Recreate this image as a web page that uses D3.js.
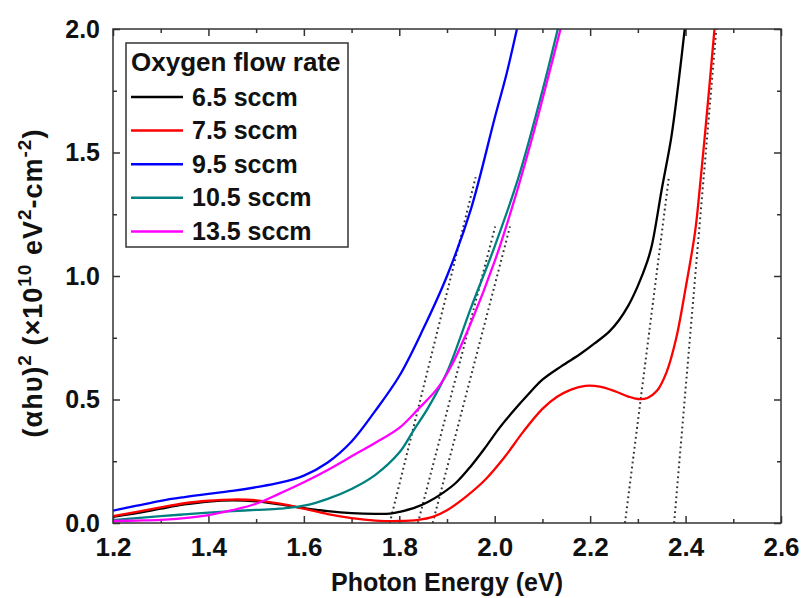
<!DOCTYPE html>
<html>
<head>
<meta charset="utf-8">
<script src="https://cdn.jsdelivr.net/npm/d3@7"></script>
<style>
  html, body { margin: 0; padding: 0; background: #fff; }
  svg { display: block; font-family: "Liberation Sans", Arial, sans-serif; }
</style>
</head>
<body>
<svg id="chart" width="803" height="598"></svg>
<script>
// ---------- data ----------
const seriesNames = ["6.5 sccm", "7.5 sccm", "9.5 sccm", "10.5 sccm", "13.5 sccm"];
const seriesColors = ["#000000", "#ff0000", "#0000ff", "#008080", "#ff00ff"];

// [photon energy (eV), (αhυ)² (×10¹⁰ eV²·cm⁻²)]
const flow6_5 = [
  [1.20,0.025],[1.25,0.040],[1.30,0.058],[1.35,0.075],[1.40,0.087],[1.45,0.092],[1.50,0.088],
  [1.55,0.075],[1.60,0.060],[1.65,0.048],[1.70,0.040],[1.75,0.037],[1.78,0.038],[1.80,0.045],
  [1.83,0.060],[1.86,0.085],[1.89,0.120],[1.92,0.165],[1.95,0.230],[1.98,0.305],[2.01,0.385],
  [2.04,0.455],[2.07,0.520],[2.10,0.580],[2.14,0.635],[2.18,0.685],[2.21,0.728],[2.24,0.775],
  [2.26,0.820],[2.28,0.880],[2.30,0.960],[2.32,1.060],[2.33,1.130],[2.35,1.350],[2.37,1.560],
  [2.385,1.780],[2.40,2.030]
];
const flow7_5 = [
  [1.20,0.028],[1.25,0.045],[1.30,0.063],[1.35,0.080],[1.40,0.090],[1.45,0.095],[1.50,0.092],
  [1.55,0.078],[1.60,0.058],[1.65,0.036],[1.70,0.020],[1.75,0.010],[1.80,0.008],[1.84,0.013],
  [1.87,0.025],[1.90,0.052],[1.94,0.107],[1.98,0.175],[2.02,0.265],[2.06,0.370],[2.10,0.462],
  [2.13,0.510],[2.16,0.540],[2.19,0.555],[2.22,0.552],[2.25,0.535],[2.28,0.512],[2.30,0.502],
  [2.32,0.506],[2.34,0.535],[2.36,0.610],[2.38,0.745],[2.40,0.950],[2.42,1.180],[2.43,1.360],
  [2.44,1.560],[2.45,1.770],[2.462,2.030]
];
const flow9_5 = [
  [1.20,0.050],[1.25,0.070],[1.30,0.090],[1.35,0.105],[1.40,0.118],[1.45,0.130],[1.50,0.145],
  [1.55,0.163],[1.60,0.192],[1.65,0.245],[1.70,0.330],[1.75,0.455],[1.80,0.595],[1.85,0.785],
  [1.90,1.000],[1.95,1.270],[2.00,1.640],[2.025,1.820],[2.05,2.030]
];
const flow10_5 = [
  [1.20,0.012],[1.25,0.020],[1.30,0.028],[1.35,0.035],[1.40,0.042],[1.45,0.048],[1.50,0.053],
  [1.55,0.058],[1.60,0.070],[1.65,0.098],[1.70,0.138],[1.75,0.195],[1.80,0.285],[1.83,0.375],
  [1.86,0.465],[1.90,0.610],[1.95,0.870],[2.00,1.120],[2.05,1.400],[2.10,1.750],[2.136,2.030]
];
const flow13_5 = [
  [1.20,0.008],[1.25,0.010],[1.30,0.013],[1.35,0.020],[1.40,0.032],[1.45,0.052],[1.50,0.078],
  [1.55,0.120],[1.60,0.165],[1.65,0.215],[1.70,0.270],[1.75,0.325],[1.80,0.385],[1.84,0.462],
  [1.88,0.545],[1.91,0.640],[1.95,0.810],[2.00,1.060],[2.04,1.300],[2.08,1.570],[2.11,1.790],
  [2.142,2.030]
];
const seriesData = [flow6_5, flow7_5, flow9_5, flow10_5, flow13_5];

// linear-fit (tangent) extrapolation lines: [[E0, y0], [E1, y1]]
const tangentLines = [
  [[1.780, 0], [1.960, 1.40]],
  [[1.839, 0], [2.001, 1.20]],
  [[1.870, 0], [2.032, 1.20]],
  [[2.273, 0], [2.365, 1.40]],
  [[2.376, 0], [2.4645, 2.00]]
];

const xMajorTicks = [1.2, 1.4, 1.6, 1.8, 2.0, 2.2, 2.4, 2.6];
const xMinorTicks = [1.3, 1.5, 1.7, 1.9, 2.1, 2.3, 2.5];
const yMajorTicks = [0.0, 0.5, 1.0, 1.5, 2.0];
const yMinorTicks = [0.25, 0.75, 1.25, 1.75];

// ---------- layout ----------
const svg = d3.select("#chart");
const m = { left: 113, top: 29, right: 781, bottom: 523 };
const W = m.right - m.left, H = m.bottom - m.top;
const axisColor = "#333";

const x = d3.scaleLinear().domain([1.2, 2.6]).range([0, W]);
const y = d3.scaleLinear().domain([0, 2.0]).range([H, 0]);

const g = svg.append("g").attr("transform", `translate(${m.left},${m.top})`);

g.append("defs").append("clipPath").attr("id", "plotclip")
  .append("rect").attr("x", 0).attr("y", 0).attr("width", W).attr("height", H);

// ---------- axes ----------
function styleAxis(sel) {
  sel.select(".domain").remove();
  sel.selectAll("line").attr("stroke", axisColor).attr("stroke-width", 1.5);
  sel.selectAll("text").attr("fill", "#111").attr("font-weight", "bold");
}
const fmt = d3.format(".1f");

// bottom
g.append("g").attr("transform", `translate(0,${H})`)
  .call(d3.axisBottom(x).tickValues(xMajorTicks).tickFormat(fmt).tickSizeInner(-7).tickSizeOuter(0).tickPadding(15))
  .call(styleAxis).selectAll("text").attr("font-size", 26);
g.append("g").attr("transform", `translate(0,${H})`)
  .call(d3.axisBottom(x).tickValues(xMinorTicks).tickFormat("").tickSizeInner(-4).tickSizeOuter(0))
  .call(styleAxis);
// top
g.append("g")
  .call(d3.axisTop(x).tickValues(xMajorTicks).tickFormat("").tickSizeInner(-7).tickSizeOuter(0))
  .call(styleAxis);
g.append("g")
  .call(d3.axisTop(x).tickValues(xMinorTicks).tickFormat("").tickSizeInner(-4).tickSizeOuter(0))
  .call(styleAxis);
// left
g.append("g")
  .call(d3.axisLeft(y).tickValues(yMajorTicks).tickFormat(fmt).tickSizeInner(-7).tickSizeOuter(0).tickPadding(13))
  .call(styleAxis).selectAll("text").attr("font-size", 25);
g.append("g")
  .call(d3.axisLeft(y).tickValues(yMinorTicks).tickFormat("").tickSizeInner(-4).tickSizeOuter(0))
  .call(styleAxis);
// right
g.append("g").attr("transform", `translate(${W},0)`)
  .call(d3.axisRight(y).tickValues(yMajorTicks).tickFormat("").tickSizeInner(-7).tickSizeOuter(0))
  .call(styleAxis);
g.append("g").attr("transform", `translate(${W},0)`)
  .call(d3.axisRight(y).tickValues(yMinorTicks).tickFormat("").tickSizeInner(-4).tickSizeOuter(0))
  .call(styleAxis);

// ---------- tangent (dotted) lines ----------
const plot = g.append("g").attr("clip-path", "url(#plotclip)");
const lineGen = d3.line().x(d => x(d[0])).y(d => y(d[1]));
plot.selectAll("path.tangent").data(tangentLines).join("path")
  .attr("class", "tangent")
  .attr("d", lineGen)
  .attr("fill", "none")
  .attr("stroke", "#333")
  .attr("stroke-width", 2)
  .attr("stroke-dasharray", "1.8,3.2")
  .attr("stroke-linecap", "butt");

// ---------- curves ----------
const curveGen = d3.line().x(d => x(d[0])).y(d => y(d[1])).curve(d3.curveCatmullRom.alpha(0.5));
plot.selectAll("path.series").data(seriesData).join("path")
  .attr("class", "series")
  .attr("d", curveGen)
  .attr("fill", "none")
  .attr("stroke", (d, i) => seriesColors[i])
  .attr("stroke-width", 2.3)
  .attr("stroke-linejoin", "round");

// ---------- frame ----------
g.append("rect").attr("x", 0).attr("y", 0).attr("width", W).attr("height", H)
  .attr("fill", "none").attr("stroke", axisColor).attr("stroke-width", 1.5);

// ---------- legend ----------
const lg = svg.append("g");
lg.append("rect").attr("x", 126).attr("y", 43).attr("width", 222).attr("height", 204)
  .attr("fill", "#fff").attr("stroke", axisColor).attr("stroke-width", 1.5);
lg.append("text").attr("x", 131).attr("y", 71)
  .attr("font-size", 26).attr("font-weight", "bold").attr("fill", "#111")
  .text("Oxygen flow rate");
const items = lg.selectAll("g.item").data(seriesNames).join("g").attr("class", "item")
  .attr("transform", (d, i) => `translate(0,${97 + i * 33.6})`);
items.append("line").attr("x1", 131).attr("x2", 183).attr("y1", 0).attr("y2", 0)
  .attr("stroke", (d, i) => seriesColors[i]).attr("stroke-width", 2.5);
items.append("text").attr("x", 192).attr("y", 8.5)
  .attr("font-size", 25).attr("font-weight", "bold").attr("fill", "#111")
  .text(d => d);

// ---------- axis titles ----------
svg.append("text")
  .attr("x", (m.left + m.right) / 2).attr("y", 591)
  .attr("text-anchor", "middle").attr("font-size", 25).attr("font-weight", "bold").attr("fill", "#111")
  .text("Photon Energy (eV)");

const yt = svg.append("text")
  .attr("transform", "translate(42,283) rotate(-90)")
  .attr("text-anchor", "middle").attr("font-size", 27).attr("font-weight", "bold").attr("fill", "#111")
  .attr("letter-spacing", 1);
const parts = [
  ["(αhυ)", 0], ["2", 1], [" (×10", 0], ["10", 1], [" eV", 0], ["2", 1], ["-cm", 0], ["-2", 1], [")", 0]
];
let prevSup = 0;
parts.forEach(([t, sup]) => {
  const ts = yt.append("tspan").text(t);
  if (sup !== prevSup) ts.attr("dy", sup ? -11 : 11);
  if (sup) ts.attr("font-size", 19);
  prevSup = sup;
});
</script>
</body>
</html>
